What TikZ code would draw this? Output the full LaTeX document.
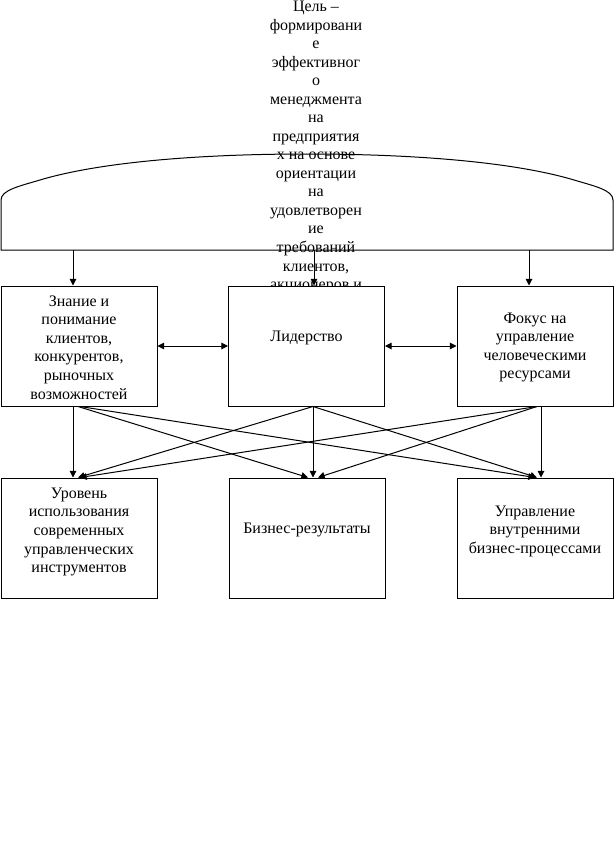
\documentclass[tikz,border=0pt]{standalone}
\usepackage{fontspec}
\setmainfont{Liberation Serif}
\usetikzlibrary{arrows.meta,calc}
\begin{document}
\begin{tikzpicture}[x=0.75pt,y=-0.75pt,
  line width=0.75pt,
  box/.style={draw,fill=white,line width=0.75pt,minimum width=117pt,minimum height=90pt,inner sep=0pt},
  txt/.style={font=\fontsize{12pt}{13.9pt}\selectfont,align=center,inner sep=0pt},
  arr/.style={-{Triangle[length=5pt,width=5pt]}},
  darr/.style={{Triangle[length=5pt,width=5pt]}-{Triangle[length=5pt,width=5pt]}}]
\useasboundingbox[fill=white] (0,0) rectangle (614,863);
% goal text
\node[txt] (goal) at (316,147) {Цель –\\формировани\\е\\эффективног\\о\\менеджмента\\на\\предприятия\\х на основе\\ориентации\\на\\удовлетворен\\ие\\требований\\клиентов,\\акционеров и};
% top shape
\draw (1,250) -- (1,200) .. controls (1,190) and (20,186) .. (40,180)
  .. controls (100,162) and (200,154) .. (307,154)
  .. controls (414,154) and (514,162) .. (574,180)
  .. controls (594,186) and (613,190) .. (613,200) -- (613,250) -- cycle;
\coordinate (t1) at (73,250);
\coordinate (t2) at (314,250);
\coordinate (t3) at (529,250);
% boxes
\node[box] (k1) at (79,346) {};
\node[box] (k2) at (306.5,346) {};
\node[box] (k3) at (535,346) {};
\node[box] (b1) at (79,538) {};
\node[box] (b2) at (307,538) {};
\node[box] (b3) at (535,538) {};
% texts
\node[txt] (k1t) at ($(k1.center)+(0,1.5)$) {Знание и\\понимание\\клиентов,\\конкурентов,\\рыночных\\возможностей};
\node[txt] (k2t) at ($(k2.center)+(0,-8)$) {Лидерство};
\node[txt] (k3t) at ($(k3.center)+(0,1.5)$) {Фокус на\\управление\\человеческими\\ресурсами};
\node[txt] (b1t) at ($(b1.center)+(0,-6)$) {Уровень\\использования\\современных\\управленческих\\инструментов};
\node[txt] (b2t) at ($(b2.center)+(0,-8)$) {Бизнес-результаты};
\node[txt] (b3t) at ($(b3.center)+(0,-7)$) {Управление\\внутренними\\бизнес-процессами};
% arrows from goal
\draw[arr] (t1) -- (t1 |- k1.north);
\draw[arr] (t2) -- (t2 |- k2.north);
\draw[arr] (t3) -- (t3 |- k3.north);
% double arrows
\draw[darr] (k1.east) -- (k2.west);
\draw[darr] (k2.east) -- (k3.west);
% cross arrows
\draw[arr] ($(k1.south)+(-6,0)$) -- ($(b1.north)+(-6,0)$);
\draw[arr] ($(k1.south)+(-1,0)$) -- ($(b2.north)+(1,0)$);
\draw[arr] ($(k1.south)+(1,0)$) -- ($(b3.north)+(0,0)$);
\draw[arr] ($(k2.south)+(6.5,0)$) -- ($(b1.north)+(-1,0)$);
\draw[arr] ($(k2.south)+(6.5,0)$) -- ($(b2.north)+(6,0)$);
\draw[arr] ($(k2.south)+(6.5,0)$) -- ($(b3.north)+(2,0)$);
\draw[arr] ($(k3.south)+(2,0)$) -- ($(b1.north)+(1,0)$);
\draw[arr] ($(k3.south)+(2,0)$) -- ($(b2.north)+(11,0)$);
\draw[arr] ($(k3.south)+(6,0)$) -- ($(b3.north)+(6,0)$);
\end{tikzpicture}
\end{document}
